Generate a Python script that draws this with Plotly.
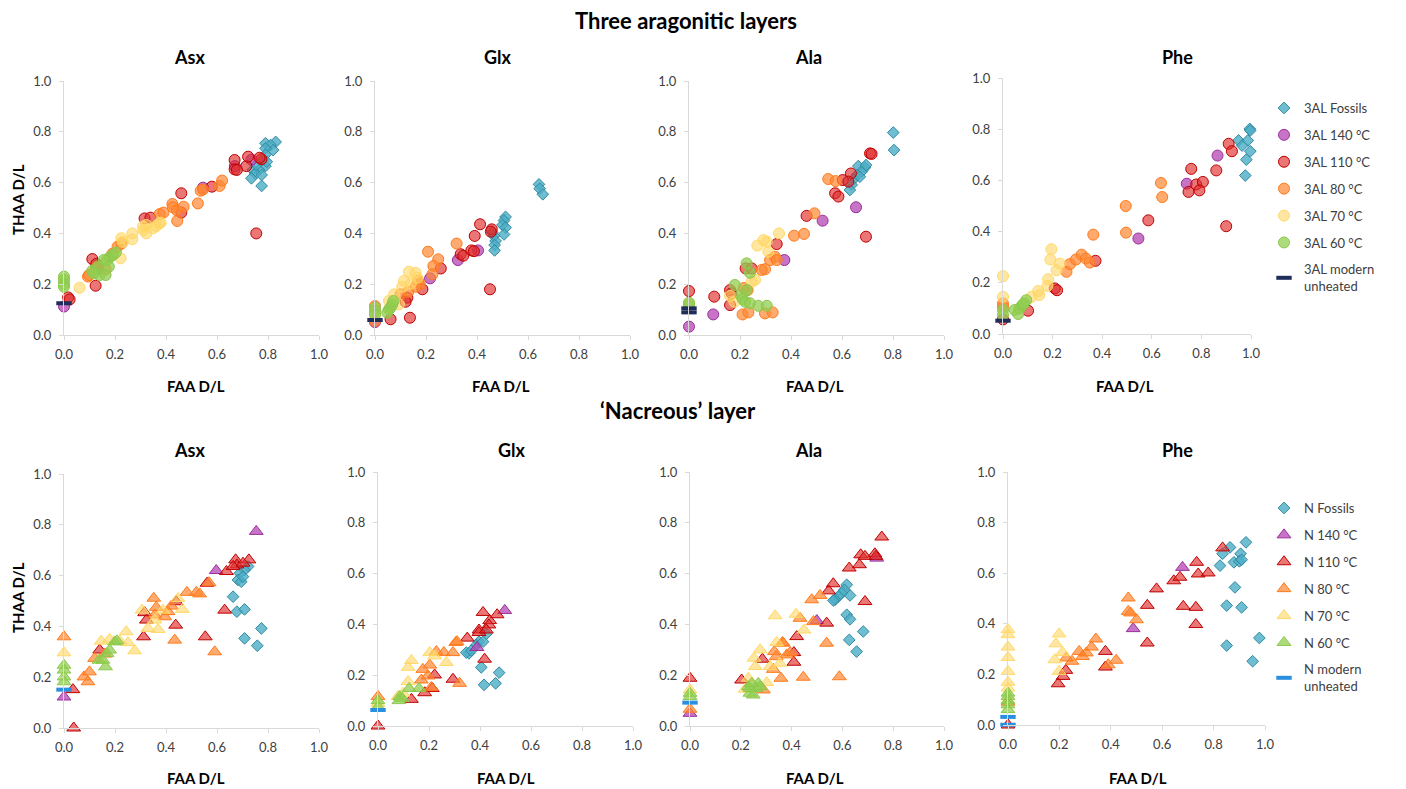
import plotly.graph_objects as go

W, H = 1406, 789
OFF = 8  # page body margin in the browser

# ---------------- DATA (FAA D/L, THAA D/L) ----------------
# Three aragonitic layers (3AL)
asx_3al_fossils = [(0.79,0.755),(0.83,0.76),(0.81,0.748),(0.82,0.728),(0.79,0.735),(0.79,0.71),(0.78,0.69),(0.79,0.665),(0.765,0.65),(0.74,0.65),(0.75,0.636),(0.735,0.617),(0.775,0.63),(0.775,0.587),(0.795,0.682),(0.755,0.669)]
asx_3al_140 = [(0.0,0.112),(0.545,0.58),(0.735,0.69),(0.67,0.665),(0.13,0.26)]
asx_3al_110 = [(0.016,0.148),(0.022,0.14),(0.124,0.194),(0.111,0.299),(0.127,0.28),(0.316,0.459),(0.339,0.462),(0.46,0.558),(0.46,0.482),(0.58,0.584),(0.669,0.689),(0.669,0.652),(0.715,0.665),(0.722,0.702),(0.678,0.65),(0.774,0.692),(0.767,0.698),(0.754,0.40)]
asx_3al_80 = [(0.094,0.23),(0.098,0.236),(0.19,0.32),(0.21,0.348),(0.225,0.36),(0.375,0.476),(0.39,0.482),(0.425,0.516),(0.427,0.503),(0.443,0.49),(0.444,0.449),(0.469,0.505),(0.525,0.518),(0.536,0.568),(0.545,0.573),(0.61,0.587),(0.62,0.608),(0.163,0.258),(0.127,0.266)]
asx_3al_70 = [(0.061,0.186),(0.225,0.381),(0.231,0.367),(0.268,0.40),(0.268,0.377),(0.222,0.302),(0.312,0.413),(0.323,0.40),(0.349,0.42),(0.362,0.429),(0.373,0.44),(0.379,0.442),(0.323,0.433),(0.31,0.427)]
asx_3al_60 = [(0,0.23),(0,0.217),(0,0.2),(0,0.19),(0.111,0.253),(0.133,0.269),(0.14,0.236),(0.163,0.236),(0.169,0.295),(0.179,0.306),(0.192,0.315),(0.203,0.325),(0.156,0.295),(0.116,0.243),(0.176,0.269)]
asx_3al_modern = [(0,0.125)]

glx_3al_fossils = [(0.643,0.593),(0.646,0.576),(0.658,0.554),(0.512,0.465),(0.506,0.451),(0.5,0.433),(0.512,0.423),(0.506,0.396),(0.467,0.39),(0.473,0.37),(0.469,0.354),(0.469,0.333),(0.46,0.403)]
glx_3al_140 = [(0,0.051),(0.216,0.223),(0.325,0.295),(0.404,0.333)]
glx_3al_110 = [(0.061,0.062),(0.137,0.068),(0.127,0.147),(0.12,0.131),(0.186,0.18),(0.258,0.262),(0.336,0.318),(0.346,0.312),(0.378,0.333),(0.391,0.39),(0.412,0.436),(0.458,0.416),(0.454,0.407),(0.451,0.18),(0.388,0.33)]
glx_3al_80 = [(0,0.114),(0,0.055),(0.208,0.328),(0.248,0.298),(0.229,0.272),(0.225,0.239),(0.32,0.36),(0.169,0.213),(0.176,0.202),(0.16,0.19),(0.1,0.16),(0.13,0.17)]
glx_3al_70 = [(0.133,0.249),(0.159,0.245),(0.114,0.213),(0.107,0.19),(0.075,0.16),(0.055,0.134),(0.094,0.121),(0.14,0.202),(0.166,0.226),(0,0.084)]
glx_3al_60 = [(0,0.108),(0,0.094),(0,0.079),(0.055,0.101),(0.061,0.108),(0.068,0.121),(0.072,0.134),(0.048,0.088)]
glx_3al_modern = [(0,0.059)]

ala_3al_fossils = [(0.801,0.797),(0.804,0.728),(0.69,0.659),(0.664,0.665),(0.677,0.643),(0.658,0.63),(0.645,0.613),(0.638,0.591),(0.631,0.571),(0.694,0.669),(0.67,0.623)]
ala_3al_140 = [(0,0.033),(0.095,0.081),(0.524,0.45),(0.655,0.503),(0.374,0.295)]
ala_3al_110 = [(0,0.173),(0.099,0.151),(0.161,0.177),(0.167,0.164),(0.161,0.118),(0.222,0.262),(0.246,0.262),(0.344,0.358),(0.461,0.469),(0.573,0.558),(0.586,0.545),(0.603,0.61),(0.635,0.636),(0.625,0.604),(0.71,0.715),(0.716,0.713),(0.694,0.387)]
ala_3al_80 = [(0.546,0.614),(0.575,0.606),(0.492,0.479),(0.412,0.391),(0.451,0.398),(0.298,0.259),(0.285,0.256),(0.318,0.295),(0.337,0.308),(0.344,0.295),(0.21,0.081),(0.233,0.089),(0.298,0.085),(0.328,0.089),(0.23,0.177),(0.215,0.185)]
ala_3al_70 = [(0.268,0.352),(0.292,0.374),(0.305,0.367),(0.311,0.328),(0.353,0.4),(0.259,0.217),(0.246,0.21),(0.178,0.131),(0.161,0.154),(0,0.125)]
ala_3al_60 = [(0,0.118),(0,0.127),(0.18,0.197),(0.226,0.282),(0.239,0.245),(0.203,0.157),(0.21,0.142),(0.22,0.131),(0.239,0.125),(0.272,0.115),(0.305,0.115),(0.226,0.177)]
ala_3al_modern = [(0,0.105),(0,0.089)]

phe_3al_fossils = [(0.995,0.801),(0.997,0.795),(0.95,0.756),(0.987,0.756),(0.964,0.736),(0.997,0.714),(0.981,0.681),(0.977,0.619)]
phe_3al_140 = [(0.741,0.587),(0.865,0.697),(0.546,0.373)]
phe_3al_110 = [(0.91,0.743),(0.923,0.714),(0.86,0.639),(0.759,0.645),(0.779,0.584),(0.806,0.594),(0.792,0.561),(0.748,0.555),(0.586,0.444),(0.9,0.421),(0.373,0.286),(0.209,0.178),(0.218,0.171),(0.101,0.091),(0,0.057)]
phe_3al_80 = [(0.637,0.59),(0.642,0.535),(0.495,0.5),(0.496,0.396),(0.364,0.388),(0.256,0.243),(0.27,0.273),(0.294,0.291),(0.317,0.31),(0.334,0.295),(0.35,0.279),(0,0.119),(0,0.106)]
phe_3al_70 = [(0,0.226),(0,0.145),(0.195,0.331),(0.191,0.291),(0.229,0.275),(0.216,0.249),(0.182,0.214),(0.179,0.188),(0.142,0.168),(0.146,0.152),(0.115,0.145)]
phe_3al_60 = [(0,0.094),(0,0.074),(0.047,0.094),(0.061,0.078),(0.067,0.1),(0.078,0.113),(0.094,0.132),(0.084,0.119)]
phe_3al_modern = [(0,0.052)]

# 'Nacreous' layer (N)
asx_n_fossils = [(0.722,0.636),(0.708,0.622),(0.689,0.609),(0.682,0.583),(0.695,0.576),(0.702,0.596),(0.663,0.517),(0.678,0.458),(0.708,0.467),(0.708,0.353),(0.774,0.392),(0.758,0.324)]
asx_n_140 = [(0,0.122),(0.754,0.774),(0.597,0.62)]
asx_n_110 = [(0.038,0.0),(0.035,0.151),(0.14,0.307),(0.312,0.359),(0.323,0.425),(0.316,0.454),(0.438,0.405),(0.44,0.497),(0.561,0.57),(0.554,0.359),(0.63,0.464),(0.637,0.616),(0.673,0.662),(0.678,0.642),(0.725,0.662),(0.663,0.636),(0.702,0.649)]
asx_n_80 = [(0,0.359),(0.078,0.201),(0.094,0.182),(0.1,0.221),(0.12,0.274),(0.16,0.291),(0.352,0.511),(0.356,0.445),(0.395,0.438),(0.408,0.458),(0.421,0.48),(0.434,0.346),(0.482,0.534),(0.519,0.534),(0.532,0.528),(0.569,0.572),(0.591,0.3),(0.362,0.475)]
asx_n_70 = [(0,0.296),(0.146,0.342),(0.179,0.349),(0.244,0.379),(0.251,0.336),(0.277,0.304),(0.306,0.464),(0.329,0.392),(0.369,0.388),(0.356,0.425),(0.388,0.464),(0.447,0.51),(0.464,0.467),(0.218,0.343)]
asx_n_60 = [(0,0.247),(0,0.228),(0,0.201),(0,0.182),(0.137,0.267),(0.163,0.241),(0.169,0.293),(0.179,0.307),(0.199,0.339),(0.208,0.343),(0.153,0.267)]
asx_n_modern = [(0,0.151)]

glx_n_fossils = [(0.425,0.363),(0.396,0.332),(0.386,0.319),(0.412,0.332),(0.357,0.286),(0.346,0.289),(0.366,0.297),(0.405,0.231),(0.416,0.162),(0.461,0.168),(0.475,0.21)]
glx_n_140 = [(0.497,0.455),(0.388,0.309)]
glx_n_110 = [(0,0.0),(0.412,0.447),(0.467,0.438),(0.438,0.415),(0.435,0.398),(0.396,0.378),(0.396,0.368),(0.425,0.378),(0.418,0.263),(0.35,0.346),(0.294,0.184),(0.222,0.201),(0.213,0.148),(0.183,0.131),(0.131,0.105)]
glx_n_80 = [(0,0.116),(0.305,0.329),(0.31,0.332),(0.229,0.293),(0.258,0.289),(0.294,0.289),(0.32,0.168),(0.203,0.24),(0.176,0.223),(0.17,0.181),(0.196,0.197),(0.209,0.152)]
glx_n_70 = [(0.131,0.258),(0.118,0.231),(0.118,0.175),(0.203,0.289),(0.222,0.276),(0.268,0.25),(0.078,0.116),(0.098,0.129),(0,0.089)]
glx_n_60 = [(0,0.1),(0,0.076),(0.085,0.116),(0.095,0.109),(0.122,0.148),(0.161,0.148),(0.082,0.1)]
glx_n_modern = [(0,0.063)]

ala_n_fossils = [(0.617,0.556),(0.608,0.536),(0.63,0.514),(0.597,0.523),(0.584,0.51),(0.571,0.497),(0.564,0.494),(0.617,0.438),(0.63,0.42),(0.627,0.339),(0.656,0.293),(0.682,0.372)]
ala_n_140 = [(0.499,0.415),(0.735,0.661),(0,0.05)]
ala_n_110 = [(0,0.188),(0.203,0.181),(0.285,0.263),(0.409,0.289),(0.409,0.251),(0.42,0.352),(0.538,0.405),(0.546,0.532),(0.564,0.56),(0.627,0.622),(0.667,0.635),(0.672,0.674),(0.689,0.668),(0.728,0.678),(0.732,0.668),(0.689,0.49),(0.755,0.744)]
ala_n_80 = [(0,0.066),(0.479,0.497),(0.512,0.514),(0.433,0.424),(0.486,0.411),(0.538,0.326),(0.588,0.194),(0.446,0.192),(0.358,0.188),(0.328,0.223),(0.332,0.293),(0.364,0.329),(0.367,0.326),(0.381,0.28),(0.394,0.289),(0.339,0.273),(0.289,0.142)]
ala_n_70 = [(0,0.142),(0.335,0.434),(0.417,0.44),(0.449,0.378),(0.341,0.329),(0.276,0.3),(0.252,0.267),(0.257,0.234),(0.315,0.234),(0.354,0.247),(0.302,0.171),(0.23,0.188),(0.217,0.145)]
ala_n_60 = [(0,0.116),(0,0.129),(0.23,0.155),(0.236,0.129),(0.249,0.122),(0.269,0.168),(0.262,0.148),(0.236,0.148),(0.276,0.155),(0.243,0.168)]
ala_n_modern = [(0,0.092)]

phe_n_fossils = [(0.926,0.722),(0.864,0.702),(0.905,0.677),(0.835,0.677),(0.879,0.643),(0.9,0.647),(0.909,0.653),(0.825,0.63),(0.883,0.544),(0.851,0.472),(0.909,0.465),(0.851,0.314),(0.978,0.344),(0.952,0.252)]
phe_n_140 = [(0.679,0.623),(0.487,0.381)]
phe_n_110 = [(0,0.0),(0.195,0.163),(0.214,0.192),(0.225,0.216),(0.379,0.291),(0.379,0.229),(0.542,0.324),(0.542,0.473),(0.578,0.538),(0.645,0.57),(0.669,0.584),(0.682,0.469),(0.731,0.465),(0.731,0.397),(0.734,0.643),(0.74,0.597),(0.779,0.601),(0.835,0.7)]
phe_n_80 = [(0.468,0.502),(0.468,0.449),(0.477,0.443),(0.5,0.416),(0.39,0.238),(0.421,0.256),(0.249,0.252),(0.227,0.265),(0.277,0.291),(0.29,0.271),(0.305,0.285),(0.325,0.308),(0.342,0.34),(0,0.09)]
phe_n_70 = [(0,0.377),(0,0.357),(0,0.308),(0,0.267),(0,0.212),(0,0.169),(0,0.146),(0.199,0.36),(0.186,0.321),(0.212,0.287),(0.182,0.258),(0.199,0.212)]
phe_n_60 = [(0,0.126),(0,0.113),(0,0.097),(0,0.08),(0,0.061)]
phe_n_modern = [(0,0.032),(0,0.001)]

amino_acids = ["Asx", "Glx", "Ala", "Phe"]
labels_3al = ["3AL Fossils", "3AL 140 °C", "3AL 110 °C", "3AL 80 °C", "3AL 70 °C", "3AL 60 °C", "3AL modern<br>unheated"]
labels_n = ["N Fossils", "N 140 °C", "N 110 °C", "N 80 °C", "N 70 °C", "N 60 °C", "N modern<br>unheated"]
tick_vals = [0.0, 0.2, 0.4, 0.6, 0.8, 1.0]
tick_text = ["0.0", "0.2", "0.4", "0.6", "0.8", "1.0"]

top_panels = [
    [asx_3al_fossils, asx_3al_140, asx_3al_110, asx_3al_80, asx_3al_70, asx_3al_60, asx_3al_modern],
    [glx_3al_fossils, glx_3al_140, glx_3al_110, glx_3al_80, glx_3al_70, glx_3al_60, glx_3al_modern],
    [ala_3al_fossils, ala_3al_140, ala_3al_110, ala_3al_80, ala_3al_70, ala_3al_60, ala_3al_modern],
    [phe_3al_fossils, phe_3al_140, phe_3al_110, phe_3al_80, phe_3al_70, phe_3al_60, phe_3al_modern],
]
bottom_panels = [
    [asx_n_fossils, asx_n_140, asx_n_110, asx_n_80, asx_n_70, asx_n_60, asx_n_modern],
    [glx_n_fossils, glx_n_140, glx_n_110, glx_n_80, glx_n_70, glx_n_60, glx_n_modern],
    [ala_n_fossils, ala_n_140, ala_n_110, ala_n_80, ala_n_70, ala_n_60, ala_n_modern],
    [phe_n_fossils, phe_n_140, phe_n_110, phe_n_80, phe_n_70, phe_n_60, phe_n_modern],
]

# ---------------- STYLE ----------------
FONT = "Lato, 'Open Sans', sans-serif"
fills = ["rgba(75,172,198,0.8)", "rgba(180,70,180,0.75)", "rgba(222,45,45,0.65)",
         "rgba(255,135,50,0.7)", "rgba(255,214,100,0.6)", "rgba(146,205,80,0.75)", None]
lines = ["#2f8aa0", "#9a2f9a", "#c00000", "#ff7a1a", "#ffd966", "#8cc84b", None]
modern_top = "#1f2d5a"
modern_bottom = "#2b8fe0"

# pixel domains in the screenshot: (x0, x1, ytop, ybottom)
dom_top = [(64, 319, 81, 335), (375, 630, 81, 335), (689, 944, 81, 335), (1003, 1251, 78, 334)]
dom_bot = [(64, 319, 474, 728), (378, 633, 472, 726), (690, 944, 472, 726), (1008, 1265, 472, 725)]


def px(x):
    return (x - OFF) / W


def py(y):
    return 1 - (y - OFF) / H


fig = go.Figure()


def add_panel(idx, series, labels, top, legend_name, show_legend):
    for s, pts in enumerate(series):
        xs = [p[0] for p in pts]
        ys = [p[1] for p in pts]
        if s == 6:
            marker = dict(symbol="line-ew", size=11,
                          line=dict(width=4, color=modern_top if top else modern_bottom))
        elif s == 0:
            marker = dict(symbol="diamond", size=9, color=fills[s], line=dict(width=1, color=lines[s]))
        else:
            marker = dict(symbol="circle" if top else "triangle-up", size=11 if top else 12,
                          color=fills[s], line=dict(width=1, color=lines[s]))
        fig.add_trace(go.Scatter(
            x=xs, y=ys, mode="markers", marker=marker, name=labels[s],
            xaxis="x" if idx == 1 else f"x{idx}", yaxis="y" if idx == 1 else f"y{idx}",
            cliponaxis=False, showlegend=show_legend, legend=legend_name,
            legendgroup=f"{legend_name}_{s}", hoverinfo="x+y+name"))


for i in range(4):
    add_panel(i + 1, top_panels[i], labels_3al, True, "legend", i == 0)
for i in range(4):
    add_panel(i + 5, bottom_panels[i], labels_n, False, "legend2", i == 0)

axis_common = dict(range=[0, 1], tickvals=tick_vals, ticktext=tick_text, showline=True,
                   linecolor="#d9d9d9", linewidth=1, ticks="outside", ticklen=4,
                   tickcolor="#d9d9d9", showgrid=False, zeroline=False,
                   tickfont=dict(family=FONT, size=13, color="#404040"))

layout_axes = {}
for i, (x0, x1, yt, yb) in enumerate(dom_top + dom_bot):
    n = i + 1
    xk = "xaxis" if n == 1 else f"xaxis{n}"
    yk = "yaxis" if n == 1 else f"yaxis{n}"
    layout_axes[xk] = dict(axis_common, domain=[px(x0), px(x1)], anchor="y" if n == 1 else f"y{n}",
                           ticklabelstandoff=3)
    layout_axes[yk] = dict(axis_common, domain=[py(yb), py(yt)], anchor="x" if n == 1 else f"x{n}",
                           ticklabelstandoff=5)

annotations = []


def ann(text, x, y, size, angle=0):
    annotations.append(dict(text=text, x=px(x), y=py(y), xref="paper", yref="paper",
                            showarrow=False, xanchor="center", yanchor="middle", textangle=angle,
                            font=dict(family=FONT, size=size, color="#000000")))


ann("<b>Three aragonitic layers</b>", 686, 21, 22)
ann("<b>‘Nacreous’ layer</b>", 678, 411, 22)
for name, xc in zip(amino_acids, [189, 498, 808, 1177]):
    ann(f"<b>{name}</b>", xc, 57, 18)
for name, xc in zip(amino_acids, [189, 512, 808, 1177]):
    ann(f"<b>{name}</b>", xc, 450, 18)
for xc in [196, 501, 815, 1125]:
    ann("<b>FAA D/L</b>", xc, 386, 15)
for xc in [196, 506, 815, 1138]:
    ann("<b>FAA D/L</b>", xc, 778, 15)
ann("<b>THAA D/L</b>", 18, 200, 15, -90)
ann("<b>THAA D/L</b>", 18, 598, 15, -90)

legend_common = dict(xanchor="left", yanchor="top", bgcolor="rgba(0,0,0,0)",
                     font=dict(family=FONT, size=13, color="#404040"),
                     traceorder="grouped", tracegroupgap=7, itemclick=False, itemdoubleclick=False)

fig.update_layout(
    width=W, height=H, margin=dict(l=0, r=0, t=0, b=0, autoexpand=False),
    paper_bgcolor="white", plot_bgcolor="white",
    font=dict(family=FONT, color="#404040"),
    annotations=annotations,
    legend=dict(legend_common, x=px(1264), y=py(93)),
    legend2=dict(legend_common, x=px(1264), y=py(493)),
    **layout_axes,
)

fig.write_html("out.html")
